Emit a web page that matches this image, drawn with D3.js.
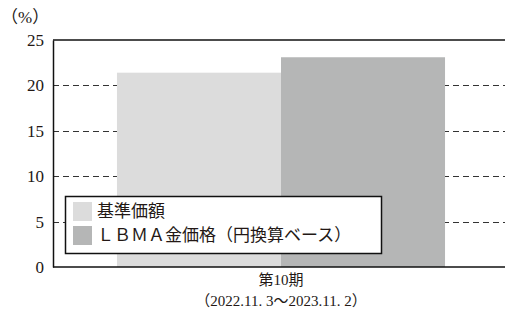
<!DOCTYPE html>
<html>
<head>
<meta charset="utf-8">
<script src="https://cdn.jsdelivr.net/npm/d3@7"></script>
<style>
  body { margin: 0; background: #fff; }
  text { font-family: "Liberation Serif", "Noto Sans CJK JP", serif; fill: #231815; }
</style>
</head>
<body>
<div id="chart"></div>
<script>

// data
var periods = ["第10期"];
var periodRanges = ["（2022.11. 3～2023.11. 2）"];
var seriesNames = ["基準価額", "ＬＢＭＡ金価格（円換算ベース）"];
var seriesColors = ["#dcdcdc", "#b5b6b6"];
var seriesValues = [21.4, 23.1];
var yTicks = [0, 5, 10, 15, 20, 25];
var gridTicks = [5, 10, 15, 20];

var W = 505, H = 315;
var margin = {top: 40, right: 0, bottom: 48, left: 53};

var svg = d3.select("#chart")
  .append("svg")
  .attr("width", W)
  .attr("height", H);

// write text with ascii in serif and wide chars in the CJK font
function mixedText(sel, str) {
  var runs = [], cur = null;
  for (var ch of str) {
    var wide = ch.charCodeAt(0) > 255;
    if (!cur || cur.wide !== wide) { cur = {wide: wide, s: ""}; runs.push(cur); }
    cur.s += ch;
  }
  runs.forEach(function(r) {
    sel.append("tspan")
      .style("font-family", r.wide ? "'Noto Sans CJK JP', sans-serif" : "'Liberation Serif', serif")
      .text(r.s);
  });
  return sel;
}

var y = d3.scaleLinear()
  .domain([0, 25])
  .range([H - margin.bottom, margin.top]);

var x0 = d3.scaleBand()
  .domain(periods)
  .range([margin.left, 509])
  .paddingOuter(0.195)
  .paddingInner(0);

var x1 = d3.scaleBand()
  .domain(seriesNames)
  .range([0, x0.bandwidth()]);

// dashed grid lines
svg.append("g")
  .selectAll("line")
  .data(gridTicks)
  .enter()
  .append("line")
    .attr("x1", margin.left)
    .attr("x2", W)
    .attr("y1", function(d) { return Math.round(y(d)) + 0.5; })
    .attr("y2", function(d) { return Math.round(y(d)) + 0.5; })
    .style("stroke", "#333")
    .style("stroke-width", 1.2)
    .style("stroke-dasharray", "6,4");

// bars
var rows = periods.map(function(p) {
  return seriesNames.map(function(s, i) { return {period: p, name: s, value: seriesValues[i], color: seriesColors[i]}; });
});

svg.append("g")
  .selectAll("g")
  .data(rows)
  .enter()
  .append("g")
    .attr("transform", function(d, i) { return "translate(" + x0(periods[i]) + ",0)"; })
  .selectAll("rect")
  .data(function(d) { return d; })
  .enter()
  .append("rect")
    .attr("x", function(d) { return x1(d.name); })
    .attr("y", function(d) { return y(d.value); })
    .attr("width", x1.bandwidth())
    .attr("height", function(d) { return y(0) - y(d.value); })
    .style("fill", function(d) { return d.color; });

// top frame line
svg.append("line")
  .attr("x1", margin.left).attr("x2", W)
  .attr("y1", y(25)).attr("y2", y(25))
  .style("stroke", "#111").style("stroke-width", 1.5);

// y axis
var yAxis = svg.append("g")
  .attr("transform", "translate(" + margin.left + ",0)")
  .call(d3.axisLeft(y).tickValues(yTicks).tickSize(0).tickPadding(9));
yAxis.select(".domain").style("stroke", "#111").style("stroke-width", 1.5);
yAxis.selectAll("text")
  .style("font-size", "17px")
  .style("font-family", "'Liberation Serif', serif");

// x axis
var xAxis = svg.append("g")
  .attr("transform", "translate(0," + y(0) + ")")
  .call(d3.axisBottom(x0).tickSize(0).tickFormat(""));
xAxis.select(".domain")
  .attr("d", "M" + margin.left + ",0H" + W)
  .style("stroke", "#111").style("stroke-width", 1.5);

periods.forEach(function(p, i) {
  var cx = x0(p) + x0.bandwidth() / 2;
  mixedText(svg.append("text")
    .attr("x", cx).attr("y", 285)
    .attr("text-anchor", "middle")
    .style("font-size", "15px"), p);
  mixedText(svg.append("text")
    .attr("x", cx).attr("y", 306)
    .attr("text-anchor", "middle")
    .style("font-size", "15px"), periodRanges[i]);
});

// unit label
mixedText(svg.append("text")
  .attr("x", 1).attr("y", 23)
  .style("font-size", "17px"), "（%）");

// legend
var legend = svg.append("g").attr("transform", "translate(65,196)");
legend.append("rect")
  .attr("x", 0.5).attr("y", 0.5)
  .attr("width", 316).attr("height", 57)
  .style("fill", "#fff")
  .style("stroke", "#111")
  .style("stroke-width", 1.5);

seriesNames.forEach(function(s, i) {
  legend.append("rect")
    .attr("x", 8).attr("y", 6 + i * 24)
    .attr("width", 19).attr("height", 19)
    .style("fill", seriesColors[i]);
  legend.append("text")
    .attr("x", 32).attr("y", 15.5 + i * 24)
    .attr("dy", "0.35em")
    .style("font-size", "17px")
    .style("font-family", "'Noto Sans CJK JP', sans-serif")
    .text(s);
});

</script>
</body>
</html>
